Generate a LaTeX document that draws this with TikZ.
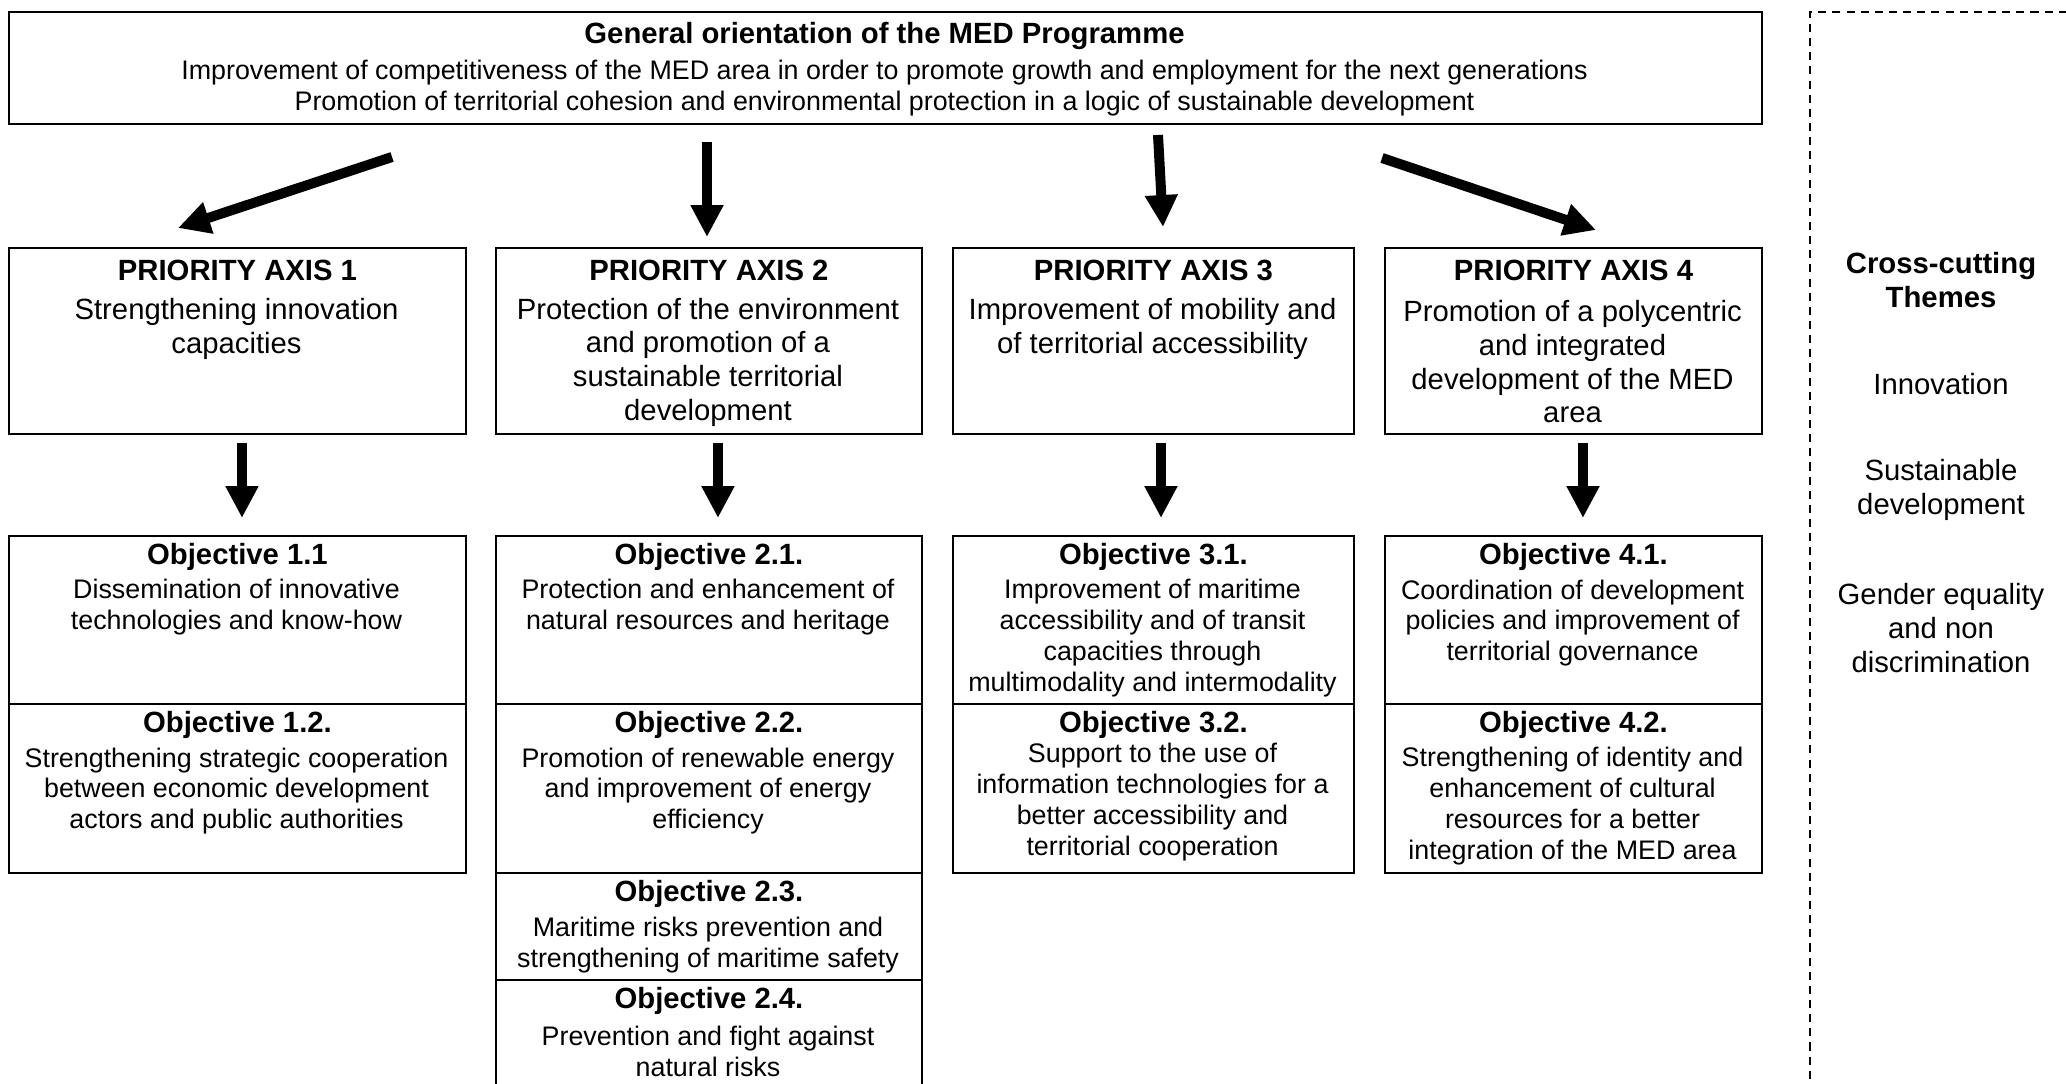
\documentclass[tikz,border=0pt]{standalone}
\usepackage{fontspec}
\setmainfont{Liberation Sans}
\usetikzlibrary{arrows.meta,calc}

\newcommand{\pxu}{0.41pt}

\tikzset{
    box/.style 2 args={draw, line width=0.8pt, inner sep=0pt, anchor=north west,
        minimum width=#1*\pxu, minimum height=#2*\pxu},
    boldtext/.style={font=\fontsize{12}{13.8}\selectfont\bfseries, align=center, inner sep=0pt},
    headtext/.style={boldtext, anchor=base},
    bodytext/.style={font=\fontsize{12}{13.8}\selectfont, align=center, inner sep=0pt},
    objtext/.style={font=\fontsize{11}{12.65}\selectfont, align=center, inner sep=0pt},
    bigarrow/.style={line width=4.1pt, -{Triangle[width=12.7pt,length=13.1pt]}}
}

\begin{document}
\begin{tikzpicture}[x=0.41pt, y=-0.41pt]
    \path[use as bounding box, fill=white] (0,0) rectangle (2066,1084);

    % General orientation
    \node[box={1753}{112}] (gen) at (8,11) {};
    \node[headtext] (genh) at (884.5,43.5) {General orientation of the MED Programme};
    \node[objtext] (gent) at (884.5,88) {Improvement of competitiveness of the MED area in order to promote growth and employment for the next generations\\
        Promotion of territorial cohesion and environmental protection in a logic of sustainable development};

    % Cross-cutting themes (box runs off the page)
    \node[box={264}{1200}, dash pattern=on 3.3pt off 2.5pt] (cross) at (1809,11) {};
    \node[boldtext] (crossh) at (1941,280) {Cross-cutting\\Themes};
    \node[bodytext] (inno) at (1941,384) {Innovation};
    \node[bodytext] (sust) at (1941,490) {Sustainable\\development};
    \node[bodytext] (gend) at (1941,628) {Gender equality\\and non\\discrimination};

    % Arrows from the general orientation
    \foreach \i/\a/\b/\c/\d in {1/392/157/178/228, 2/707/142/707/237, 3/1158/135/1163/227, 4/1382/158/1596/230} {
        \coordinate (ts\i) at (\a,\b);
        \coordinate (te\i) at (\c,\d);
        \draw[bigarrow] (ts\i) -- (te\i);
    }

    % Priority axes and objective boxes
    \foreach \c/\x/\w/\dx in {1/8/457/4.5, 2/495/426/9, 3/952/401/7.5, 4/1384/377/9.5} {
        \node[box={\w}{186}] (ax\c) at (\x,247) {};
        \node[headtext] (axh\c) at ($(ax\c.north)+(0,33.5)$) {PRIORITY AXIS \c};
        \node[box={\w}{168}] (ob\c1) at (\x,535) {};
        \node[box={\w}{169}] (ob\c2) at (\x,703) {};
        \draw[bigarrow] ($(ax\c.south)+(\dx,8)$) -- ($(ob\c1.north)+(\dx,-17)$);
    }
    \node[box={426}{107}] (ob23) at (495,872) {};
    \node[box={426}{150}] (ob24) at (495,979) {};

    % Axis texts
    \node[bodytext] (axt1) at (236.5,329) {Strengthening innovation\\capacities};
    \node[bodytext] (axt2) at (708,362) {Protection of the environment\\and promotion of a\\sustainable territorial\\development};
    \node[bodytext] (axt3) at (1152.5,329) {Improvement of mobility and\\of territorial accessibility};
    \node[bodytext] (axt4) at (1572.5,362) {Promotion of a polycentric\\and integrated\\development of the MED\\area};

    % Objective titles
    \foreach \n/\t in {11/1.1, 12/1.2., 21/2.1., 22/2.2., 23/2.3., 24/2.4., 31/3.1., 32/3.2., 41/4.1., 42/4.2.} {
        \node[headtext] (obh\n) at ($(ob\n.north)+(0,29.5)$) {Objective \t};
    }

    % Objective texts
    \node[objtext] (obt11) at (236.5,607) {Dissemination of innovative\\technologies and know-how};
    \node[objtext] (obt12) at (236.5,791) {Strengthening strategic cooperation\\between economic development\\actors and public authorities};
    \node[objtext] (obt21) at (708,607) {Protection and enhancement of\\natural resources and heritage};
    \node[objtext] (obt22) at (708,791) {Promotion of renewable energy\\and improvement of energy\\efficiency};
    \node[objtext] (obt23) at (708,945) {Maritime risks prevention and\\strengthening of maritime safety};
    \node[objtext] (obt24) at (708,1051) {Prevention and fight against\\natural risks};
    \node[objtext] (obt31) at (1152.5,638) {Improvement of maritime\\accessibility and of transit\\capacities through\\multimodality and intermodality};
    \node[objtext] (obt32) at (1152.5,802) {Support to the use of\\information technologies for a\\better accessibility and\\territorial cooperation};
    \node[objtext] (obt41) at (1572.5,623) {Coordination of development\\policies and improvement of\\territorial governance};
    \node[objtext] (obt42) at (1572.5,806) {Strengthening of identity and\\enhancement of cultural\\resources for a better\\integration of the MED area};
\end{tikzpicture}
\end{document}
